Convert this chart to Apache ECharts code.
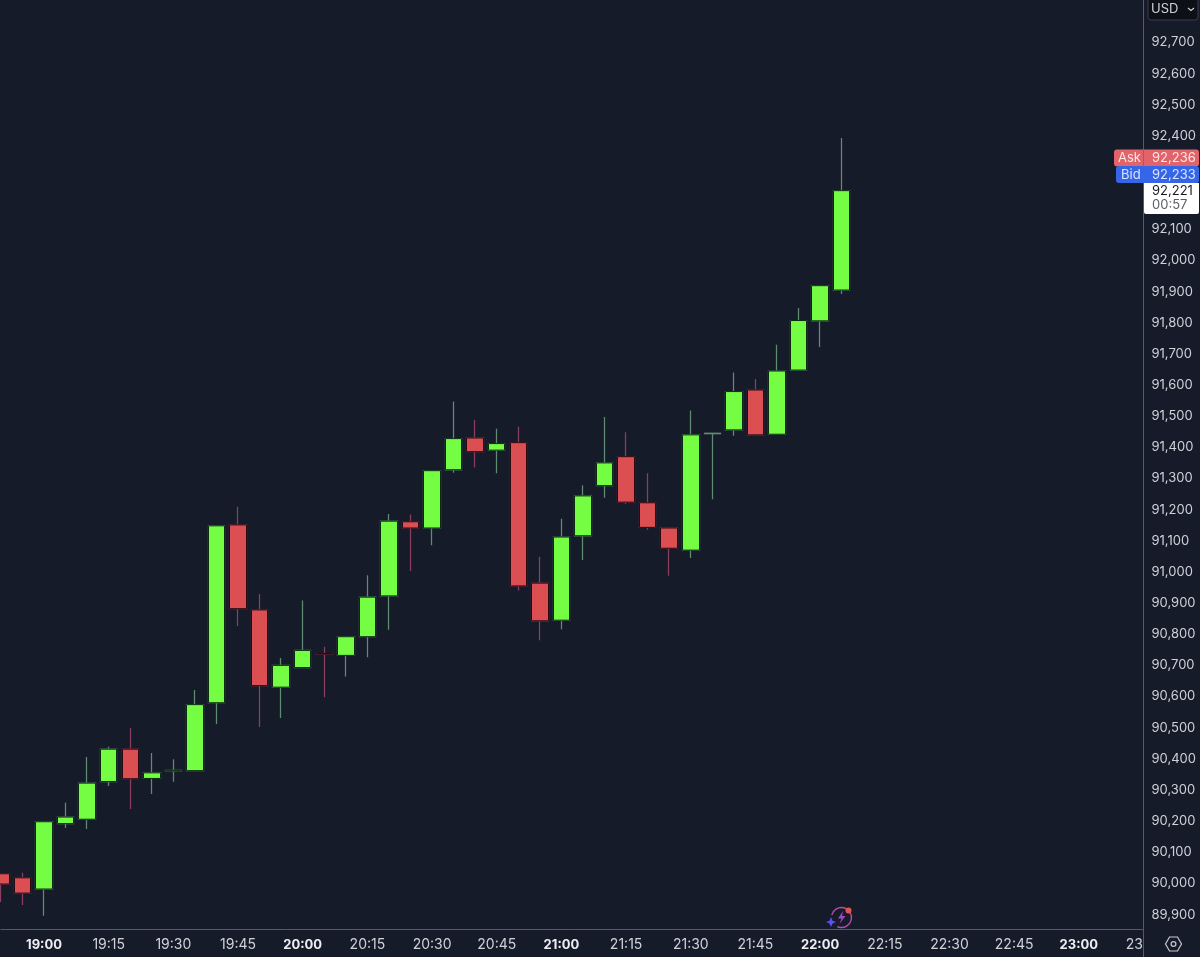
<!DOCTYPE html>
<html>
<head>
<meta charset="utf-8">
<style>html,body{margin:0;padding:0;background:#161b2a;overflow:hidden}#c{width:1200px;height:957px}</style>
<script src="https://cdn.jsdelivr.net/npm/echarts@6/dist/echarts.min.js"></script>
</head>
<body>
<div id="c"></div>
<script>
const times = ['18:50','18:55','19:00','19:05','19:10','19:15','19:20','19:25','19:30','19:35','19:40','19:45','19:50','19:55',
  '20:00','20:05','20:10','20:15','20:20','20:25','20:30','20:35','20:40','20:45','20:50','20:55',
  '21:00','21:05','21:10','21:15','21:20','21:25','21:30','21:35','21:40','21:45','21:50','21:55',
  '22:00','22:05','22:10','22:15','22:20','22:25','22:30','22:35','22:40','22:45','22:50','22:55',
  '23:00','23:05','23:10','23:15'];
const opens = [90028,90015,89979,90189,90203,90324,90428,90334,90358,90359,90577,91148,90875,90627,
  90690,90735,90729,90789,90920,91158,91138,91325,91427,91388,91412,90961,
  90842,91113,91274,91367,91219,91138,91067,91441,91453,91581,91439,91645,
  91803,91902];
const closes = [89995,89966,90195,90210,90319,90428,90333,90352,90360,90571,91145,90879,90632,90697,
  90745,90733,90789,90916,91160,91138,91322,91425,91383,91409,90952,90840,
  91109,91241,91347,91221,91140,91073,91437,91442,91576,91437,91642,91804,
  91916,92221];
const lows = [89937,89928,89893,90175,90172,90310,90236,90284,90323,90359,90509,90823,90499,90528,
  90690,90595,90661,90723,90811,91000,91083,91315,91332,91314,90937,90778,
  90813,91035,91235,91215,91132,90985,91042,91230,91434,91437,91439,91645,
  91719,91889];
const highs = [90028,90031,90195,90256,90403,90436,90496,90416,90396,90618,91145,91206,90926,90721,
  90905,90757,90789,90986,91183,91181,91322,91544,91485,91457,91463,91046,
  91168,91275,91494,91445,91314,91138,91515,91442,91637,91616,91726,91844,
  91916,92390];
const priceTicks = [89900,90000,90100,90200,90300,90400,90500,90600,90700,90800,90900,91000,91100,91200,91300,91400,
  91500,91600,91700,91800,91900,92000,92100,92200,92300,92400,92500,92600,92700];
const lineOnlyCandles = ['21:35'];
const askPrice = '92,236', bidPrice = '92,233', lastPrice = '92,221', countdown = '00:57';

const GREEN = '#74fd43', RED = '#db4e51', GREEN_WICK = '#5f8c70', RED_WICK = '#8a3f5e';
const BG = '#161b2a', AXIS = '#565a68', LABEL = '#d0d2d8';
const FONT = 'Inter, "Noto Sans", sans-serif';

const wickData = opens.map((o, i) => [o, closes[i], lows[i], highs[i]]);
const bodyData = opens.map((o, i) => {
  const c = closes[i];
  const item = { value: [o, c, Math.min(o, c), Math.max(o, c)] };
  if (lineOnlyCandles.includes(times[i])) {
    item.itemStyle = { borderColor: GREEN_WICK, borderColor0: GREEN_WICK };
  }
  return item;
});

const chart = echarts.init(document.getElementById('c'), null, { renderer: 'canvas' });
const t = (x, y, text, fill, size, extra) => ({
  type: 'text', z: 30, x, y,
  style: Object.assign({ text, fill, font: `${size}px ${FONT}`, textVerticalAlign: 'middle' }, extra || {})
});
chart.setOption({
  animation: false,
  backgroundColor: BG,
  grid: { left: 0.9, right: 56.5, top: 10.3, height: 918.9, containLabel: false },
  xAxis: {
    type: 'category', data: times, boundaryGap: false,
    axisLine: { show: true, lineStyle: { color: AXIS, width: 1 } },
    axisTick: { show: false }, splitLine: { show: false },
    axisLabel: {
      color: LABEL, fontFamily: FONT, fontSize: 14, margin: 9, hideOverlap: false,
      showMaxLabel: true, alignMaxLabel: 'center',
      interval: (i, v) => /:(00|15|30|45)$/.test(v),
      formatter: v => v.endsWith(':00') ? `{h|${v}}` : v,
      rich: { h: { fontWeight: 'bold', fontSize: 13, color: '#eceef2', fontFamily: FONT } }
    }
  },
  yAxis: {
    type: 'value', position: 'right', min: 89850, max: 92800, scale: true,
    axisLine: { show: true, lineStyle: { color: AXIS, width: 1 } },
    axisTick: { show: false }, splitLine: { show: false },
    axisLabel: {
      customValues: priceTicks, color: LABEL, fontFamily: FONT, fontSize: 13, margin: 8,
      formatter: v => `{p|${Number(v).toLocaleString('en-US')}}`,
      rich: { p: { color: LABEL, fontFamily: FONT, fontSize: 13, padding: [2, 0, 0, 0] } }
    }
  },
  series: [
    { name: 'Wicks', type: 'candlestick', data: wickData, barWidth: 17, clip: false, z: 2,
      itemStyle: { color: GREEN, color0: RED, borderColor: GREEN_WICK, borderColor0: RED_WICK, borderWidth: 1.25 } },
    { name: 'Bodies', type: 'candlestick', data: bodyData, barWidth: 17, clip: false, z: 3,
      itemStyle: { color: GREEN, color0: RED, borderColor: '#0c2a12', borderColor0: '#2a0a10', borderWidth: 1 } }
  ],
  graphic: [
    { type: 'rect', z: 20, shape: { x: 1143.5, y: 930, width: 57, height: 27 }, style: { fill: BG } },
    { type: 'line', z: 21, shape: { x1: 1143.5, y1: 0, x2: 1143.5, y2: 957 }, style: { stroke: AXIS, lineWidth: 1 } },
    // currency button
    { type: 'rect', z: 22, shape: { x: 1148, y: -3, width: 50, height: 23, r: 3 }, style: { fill: '#0e1017', stroke: '#3a3d48', lineWidth: 1 } },
    t(1151, 9.5, 'USD', LABEL, 13),
    { type: 'polyline', z: 30, shape: { points: [[1188, 8], [1191, 10.5], [1194, 8]] }, style: { stroke: LABEL, lineWidth: 1.2, fill: null } },
    // ask / bid / last tags
    { type: 'rect', z: 25, shape: { x: 1114, y: 149.5, width: 85, height: 17, r: 3 }, style: { fill: '#e2646b' } },
    { type: 'line', z: 26, shape: { x1: 1143.5, y1: 149.5, x2: 1143.5, y2: 166.5 }, style: { stroke: '#b9525c', lineWidth: 1 } },
    t(1118, 158.5, 'Ask', '#ffe4e4', 13),
    t(1152, 158, askPrice, '#ffe4e4', 13),
    { type: 'rect', z: 25, shape: { x: 1116, y: 166, width: 83, height: 17, r: 3 }, style: { fill: '#3566e8' } },
    t(1121, 175.5, 'Bid', '#d9e4ff', 13),
    t(1152, 175, bidPrice, '#d9e4ff', 13),
    { type: 'rect', z: 25, shape: { x: 1144, y: 183, width: 55, height: 31, r: [0, 0, 2, 2] }, style: { fill: '#ffffff' } },
    t(1152, 191.5, lastPrice, '#1a1c22', 13),
    t(1152, 205.5, countdown, '#5c5f66', 13),
    // settings hexagon
    { type: 'polygon', z: 30, shape: { points: [[1165.5, 944], [1169.5, 937], [1177.5, 937], [1181.5, 944], [1177.5, 951], [1169.5, 951]] }, style: { stroke: '#c8cad0', lineWidth: 1.2, fill: null } },
    { type: 'circle', z: 30, shape: { cx: 1173.5, cy: 944, r: 2.4 }, style: { stroke: '#c8cad0', lineWidth: 1.2, fill: null } },
    // small badge
    { type: 'arc', z: 30, shape: { cx: 841.5, cy: 917.5, r: 10, startAngle: -2.9, endAngle: 2.0, clockwise: true }, style: { stroke: '#b04fa8', lineWidth: 1.4, fill: null } },
    { type: 'polygon', z: 30, shape: { points: [[843, 911], [838, 918.5], [841.5, 918.5], [839.5, 924], [845.5, 916], [842, 916]] }, style: { fill: '#9a48c4' } },
    { type: 'circle', z: 31, shape: { cx: 848.5, cy: 910.5, r: 3 }, style: { fill: '#e0574f' } },
    { type: 'polygon', z: 31, shape: { points: [[831, 917], [832.6, 920.8], [836, 922], [832.6, 923.4], [831, 927], [829.4, 923.4], [826, 922], [829.4, 920.8]] }, style: { fill: '#5a4ff0' } }
  ]
});
</script>
</body>
</html>
